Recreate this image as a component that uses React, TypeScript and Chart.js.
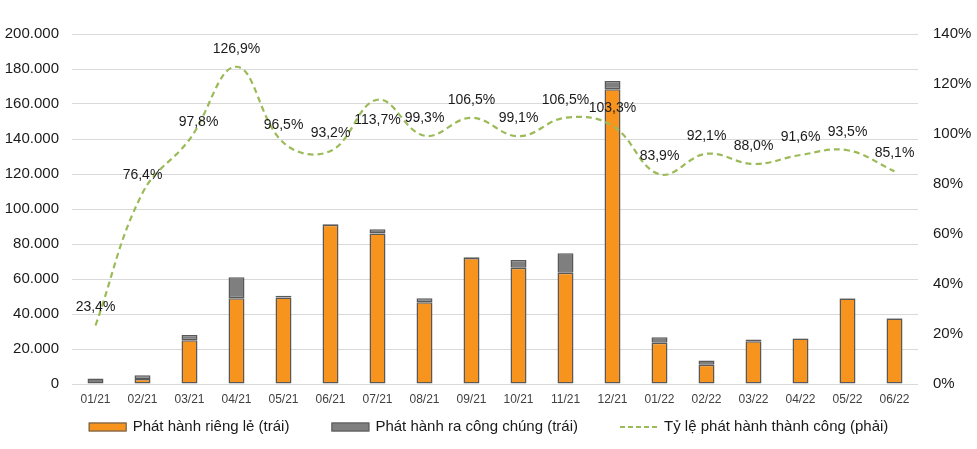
import React, { useEffect, useRef } from "react";
import { Chart, registerables } from "chart.js";

Chart.register(...registerables);

const categories = [
  "01/21", "02/21", "03/21", "04/21", "05/21", "06/21", "07/21", "08/21", "09/21",
  "10/21", "11/21", "12/21", "01/22", "02/22", "03/22", "04/22", "05/22", "06/22",
];

// Phát hành riêng lẻ (tỷ đồng)
const privateIssuance = [
  0, 2800, 25000, 49000, 49500, 91000, 86000, 46700, 72000,
  66500, 63600, 168400, 23600, 11000, 24500, 26000, 48800, 37500,
];

// Phát hành ra công chúng (tỷ đồng)
const publicIssuance = [
  3200, 2200, 3000, 12000, 1000, 500, 2500, 2300, 400,
  4400, 11100, 4700, 3100, 2500, 1000, 200, 300, 200,
];

// Tỷ lệ phát hành thành công (%)
const successRate = [
  23.4, 76.4, 97.8, 126.9, 96.5, 93.2, 113.7, 99.3, 106.5,
  99.1, 106.5, 103.3, 83.9, 92.1, 88.0, 91.6, 93.5, 85.1,
];

const legendLabels = [
  "Phát hành riêng lẻ (trái)",
  "Phát hành ra công chúng (trái)",
  "Tỷ lệ phát hành thành công (phải)",
];

const FONT = '"Liberation Sans", Arial, sans-serif';
const ORANGE = "#F7941E";
const GRAY = "#7F7F7F";
const BORDER = "#595959";
const GREEN = "#9BBB59";
const TEXT = "#1a1a1a";

// label nudges (dx, dy) relative to the point; default is above
const labelNudges: Record<number, [number, number]> = {
  2: [9, -17],
  6: [0, 20],
};

const fmtThousands = (v: number) =>
  String(Math.round(v)).replace(/\B(?=(\d{3})+(?!\d))/g, ".");
const fmtPct = (v: number) => v.toFixed(1).replace(".", ",") + "%";

const rateLabelPlugin = {
  id: "rateLabels",
  afterDatasetsDraw(chart: any) {
    const meta = chart.getDatasetMeta(2);
    const ctx = chart.ctx as CanvasRenderingContext2D;
    ctx.save();
    ctx.font = `14px ${FONT}`;
    ctx.fillStyle = TEXT;
    ctx.textAlign = "center";
    ctx.textBaseline = "middle";
    meta.data.forEach((pt: any, i: number) => {
      const off = labelNudges[i] || [0, -18];
      ctx.fillText(fmtPct(successRate[i]), pt.x + off[0], pt.y + off[1]);
    });
    ctx.restore();
  },
};

const legendPlugin = {
  id: "customLegend",
  afterDraw(chart: any) {
    const ctx = chart.ctx as CanvasRenderingContext2D;
    ctx.save();
    ctx.font = `15px ${FONT}`;
    const boxW = 38;
    const textGap = 6;
    const itemGap = 42;
    const widths = legendLabels.map((t) => ctx.measureText(t).width);
    const total =
      widths.reduce((a, w) => a + boxW + textGap + w, 0) + itemGap * (legendLabels.length - 1);
    let x = (chart.width - total) / 2;
    const cy = 427;
    legendLabels.forEach((label, i) => {
      if (i < 2) {
        ctx.fillStyle = i === 0 ? ORANGE : GRAY;
        ctx.fillRect(x, cy - 4.5, boxW, 9);
        ctx.strokeStyle = BORDER;
        ctx.lineWidth = 1;
        ctx.strokeRect(x + 0.5, cy - 4, boxW - 1, 8);
      } else {
        ctx.strokeStyle = GREEN;
        ctx.lineWidth = 2;
        ctx.setLineDash([5, 3]);
        ctx.beginPath();
        ctx.moveTo(x, cy);
        ctx.lineTo(x + boxW, cy);
        ctx.stroke();
        ctx.setLineDash([]);
      }
      ctx.fillStyle = TEXT;
      ctx.textAlign = "left";
      ctx.textBaseline = "middle";
      ctx.fillText(label, x + boxW + textGap, cy);
      x += boxW + textGap + widths[i] + itemGap;
    });
    ctx.restore();
  },
};

export default function App() {
  const ref = useRef<HTMLCanvasElement>(null);

  useEffect(() => {
    if (!ref.current) return;
    const chart = new Chart(ref.current, {
      type: "bar",
      data: {
        labels: categories,
        datasets: [
          {
            type: "bar",
            label: legendLabels[0],
            data: privateIssuance,
            backgroundColor: ORANGE,
            borderColor: BORDER,
            borderWidth: 1.5,
            borderSkipped: false,
            barPercentage: 0.34,
            categoryPercentage: 1,
            yAxisID: "y",
            order: 1,
          },
          {
            type: "bar",
            label: legendLabels[1],
            data: publicIssuance,
            backgroundColor: GRAY,
            borderColor: BORDER,
            borderWidth: 1.5,
            borderSkipped: false,
            barPercentage: 0.34,
            categoryPercentage: 1,
            yAxisID: "y",
            order: 1,
          },
          {
            type: "line",
            label: legendLabels[2],
            data: successRate,
            borderColor: GREEN,
            backgroundColor: GREEN,
            borderWidth: 2.2,
            borderDash: [6, 4],
            pointRadius: 0,
            tension: 0.4,
            fill: false,
            yAxisID: "y1",
            order: 0,
          },
        ],
      } as any,
      options: {
        responsive: false,
        devicePixelRatio: 1,
        animation: false,
        layout: { padding: { top: 34, bottom: 41, left: 0, right: 0 } },
        plugins: {
          legend: { display: false },
          tooltip: { enabled: false },
        },
        scales: {
          x: {
            stacked: true,
            grid: { display: false, drawTicks: false },
            border: { display: false },
            ticks: { font: { family: FONT, size: 12 }, color: "#404040", padding: 8, maxRotation: 0 },
            afterFit: (s: any) => {
              s.height = 24;
            },
          },
          y: {
            stacked: true,
            position: "left",
            min: 0,
            max: 200000,
            ticks: {
              stepSize: 20000,
              font: { family: FONT, size: 15 },
              color: TEXT,
              padding: 13,
              callback: (v: any) => fmtThousands(Number(v)),
            },
            grid: { color: "#d9d9d9", lineWidth: 1, drawTicks: false },
            border: { display: false },
            afterFit: (s: any) => {
              s.width = 72;
            },
          },
          y1: {
            position: "right",
            min: 0,
            max: 140,
            ticks: {
              stepSize: 20,
              font: { family: FONT, size: 15 },
              color: TEXT,
              padding: 15,
              callback: (v: any) => `${v}%`,
            },
            grid: { display: false, drawTicks: false },
            border: { display: false },
            afterFit: (s: any) => {
              s.width = 59;
            },
          },
        },
      } as any,
      plugins: [rateLabelPlugin, legendPlugin],
    });
    return () => chart.destroy();
  }, []);

  return (
    <div style={{ position: "fixed", left: 0, top: 0, width: 977, height: 449, background: "#fff" }}>
      <canvas ref={ref} width={977} height={449} style={{ display: "block", width: 977, height: 449 }} />
    </div>
  );
}
